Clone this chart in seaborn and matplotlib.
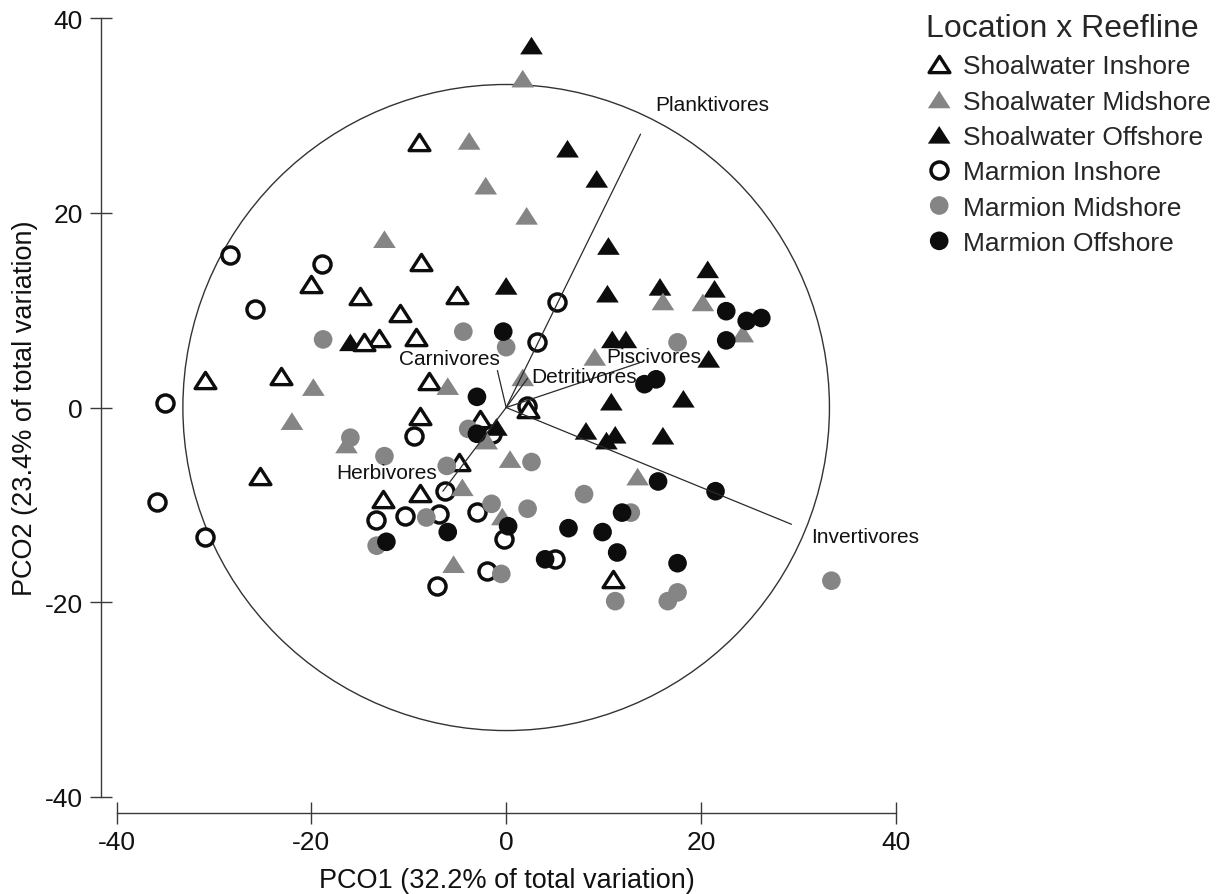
import numpy as np
import pandas as pd
import matplotlib
matplotlib.use("Agg")
import matplotlib.pyplot as plt
import seaborn as sns
from matplotlib.patches import Circle
from matplotlib.path import Path

# PCO scores, one pair of lists per Location x Reefline group
si_x = [-9.0, -20.0, -15.0, -8.7, -5.0, -10.9, -13.1, -14.6, -9.3, -30.9,
        -23.1, -7.9, -8.8, -2.7, -4.8, -25.3, -12.7, -8.8, 2.2, 11.0]
si_y = [27.3, 12.7, 11.5, 15.0, 11.6, 9.7, 7.1, 6.7, 7.2, 2.8,
        3.2, 2.7, -0.9, -1.2, -5.6, -7.0, -9.4, -8.8, -0.2, -17.6]

sm_x = [1.7, -3.8, -2.1, 2.1, -12.5, -19.8, -22.0, -16.4, -6.0, 1.7,
        9.1, 16.1, 20.2, 24.3, 0.4, -4.5, -0.4, -5.4, -2.0, 13.5]
sm_y = [33.8, 27.4, 22.8, 19.7, 17.3, 2.1, -1.4, -3.8, 2.2, 3.1,
        5.2, 10.9, 10.8, 7.6, -5.3, -8.2, -11.2, -16.1, -3.4, -7.1]

so_x = [2.6, 6.3, 9.3, 10.5, 0.0, 10.4, 15.8, 20.7, 21.4, 10.9,
        12.3, 20.8, -16.0, 10.8, 18.2, 8.2, 10.3, 11.2, 16.1, -1.0]
so_y = [37.2, 26.6, 23.5, 16.6, 12.5, 11.7, 12.4, 14.2, 12.2, 7.0,
        7.0, 5.0, 6.7, 0.6, 0.9, -2.4, -3.4, -2.8, -2.9, -2.0]

mi_x = [-28.4, -18.9, -25.8, -35.0, -35.9, -30.9, -9.5, -6.3, -13.4, -10.4,
        -6.9, -3.0, -0.2, -2.0, -7.1, 5.2, 3.2, 2.1, -1.5, 5.0]
mi_y = [15.7, 14.8, 10.1, 0.5, -9.7, -13.3, -2.9, -8.6, -11.6, -11.2,
        -10.9, -10.7, -13.5, -16.8, -18.3, 10.8, 6.7, 0.2, -2.7, -15.6]

mm_x = [-18.8, -4.4, 0.0, -16.0, -12.5, -6.1, -8.2, -13.3, -0.5, -3.9,
        -1.5, 2.6, 2.2, 8.0, 12.8, 11.2, 16.6, 17.6, 33.4, 17.6]
mm_y = [7.0, 7.8, 6.2, -3.1, -5.0, -6.0, -11.3, -14.2, -17.1, -2.2,
        -9.9, -5.6, -10.4, -8.9, -10.8, -19.9, -19.9, -19.0, -17.8, 6.7]

mo_x = [-0.3, -3.0, -3.0, -12.3, -6.0, 0.2, 4.0, 6.4, 9.9, 11.9,
        11.4, 15.6, 21.5, 17.6, 22.6, 24.7, 26.2, 22.6, 14.2, 15.4]
mo_y = [7.8, 1.1, -2.7, -13.8, -12.8, -12.2, -15.6, -12.4, -12.8, -10.8,
        -14.9, -7.6, -8.6, -16.0, 9.9, 8.9, 9.2, 6.9, 2.4, 2.9]

groups = ["Shoalwater Inshore", "Shoalwater Midshore", "Shoalwater Offshore",
          "Marmion Inshore", "Marmion Midshore", "Marmion Offshore"]
group_x = [si_x, sm_x, so_x, mi_x, mm_x, mo_x]
group_y = [si_y, sm_y, so_y, mi_y, mm_y, mo_y]

# trophic group vectors (end points) and where their labels sit
vec_names = ["Planktivores", "Invertivores", "Herbivores", "Carnivores",
             "Detritivores", "Piscivores"]
vec_x = [13.8, 29.3, -6.5, -0.9, 2.2, 13.7]
vec_y = [28.1, -12.0, -8.6, 3.8, 3.0, 4.6]
lab_x = [15.3, 31.3, -7.1, -0.6, 2.6, 10.3]
lab_y = [31.1, -13.3, -6.7, 5.0, 3.2, 5.2]
lab_ha = ["left", "left", "right", "right", "left", "left"]

df = pd.concat(
    [pd.DataFrame({"PCO1": x, "PCO2": y, "group": g})
     for g, x, y in zip(groups, group_x, group_y)],
    ignore_index=True)

sns.set_style("ticks")
plt.rcParams["font.family"] = ["Liberation Sans", "DejaVu Sans"]
plt.rcParams["axes.unicode_minus"] = False

grey = "#858585"
black = "#0d0d0d"
# slightly flattened, closed triangle so open markers get all three edges
tri = Path([(-1, -0.78), (1, -0.78), (0, 0.78), (-1, -0.78)],
           [Path.MOVETO, Path.LINETO, Path.LINETO, Path.CLOSEPOLY])

styles = {
    "Shoalwater Inshore": dict(marker=tri, s=225, facecolor="white", edgecolor=black, linewidth=2.4, zorder=3),
    "Shoalwater Midshore": dict(marker=tri, s=265, color=grey, edgecolor="none", linewidth=0, zorder=4),
    "Shoalwater Offshore": dict(marker=tri, s=265, color=black, edgecolor="none", linewidth=0, zorder=2.5),
    "Marmion Inshore": dict(marker="o", s=150, facecolor="white", edgecolor=black, linewidth=2.5, zorder=2),
    "Marmion Midshore": dict(marker="o", s=180, color=grey, edgecolor="none", linewidth=0, zorder=4.2),
    "Marmion Offshore": dict(marker="o", s=180, color=black, edgecolor="none", linewidth=0, zorder=4.4),
}

fig = plt.figure(figsize=(12.32, 8.95), dpi=100)
ax = fig.add_axes([0.0947, 0.1087, 0.6323, 0.8697])

ax.add_patch(Circle((0, 0), 33.2, fill=False, ec="#333333", lw=1.0, zorder=1))

for g in groups:
    sub = df[df["group"] == g]
    sns.scatterplot(data=sub, x="PCO1", y="PCO2", ax=ax, legend=False, label=g, **styles[g])

for name, vx, vy, tx, ty, ha in zip(vec_names, vec_x, vec_y, lab_x, lab_y, lab_ha):
    ax.plot([0, vx], [0, vy], color="#2a2a2a", lw=0.9, zorder=6)
    ax.text(tx, ty, name, ha=ha, va="center", fontsize=15, color="#111111", zorder=7)

ax.set_xlim(-40, 40)
ax.set_ylim(-40, 40)
ax.set_xticks([-40, -20, 0, 20, 40])
ax.set_yticks([-40, -20, 0, 20, 40])
ax.tick_params(direction="inout", length=15.6, width=1.0, color="#3a3a3a",
               labelsize=19, pad=5, labelcolor="#111111")
for sp in ax.spines.values():
    sp.set_color("#3a3a3a")
    sp.set_linewidth(1.0)
sns.despine(ax=ax, offset=11.5, trim=True)

ax.set_xlabel("PCO1 (32.2% of total variation)", fontsize=19.5, color="#111111")
ax.set_ylabel("PCO2 (23.4% of total variation)", fontsize=19.5, color="#111111")
ax.xaxis.set_label_coords(0.501, -0.090)
ax.yaxis.set_label_coords(-0.101, 0.5)

handles, labels = ax.get_legend_handles_labels()
order = [labels.index(g) for g in groups]
leg = ax.legend([handles[i] for i in order], [labels[i] for i in order],
                title="Location x Reefline", loc="upper left",
                bbox_to_anchor=(926 / 1232, 1 - 14 / 895), bbox_transform=fig.transFigure,
                frameon=False, fontsize=19, title_fontsize=23, alignment="left",
                handlelength=1.0, handletextpad=0.4, labelspacing=0.43,
                borderpad=0, borderaxespad=0, scatterpoints=1, scatteryoffsets=[0.5])

fig.savefig("out.png", dpi=100)
